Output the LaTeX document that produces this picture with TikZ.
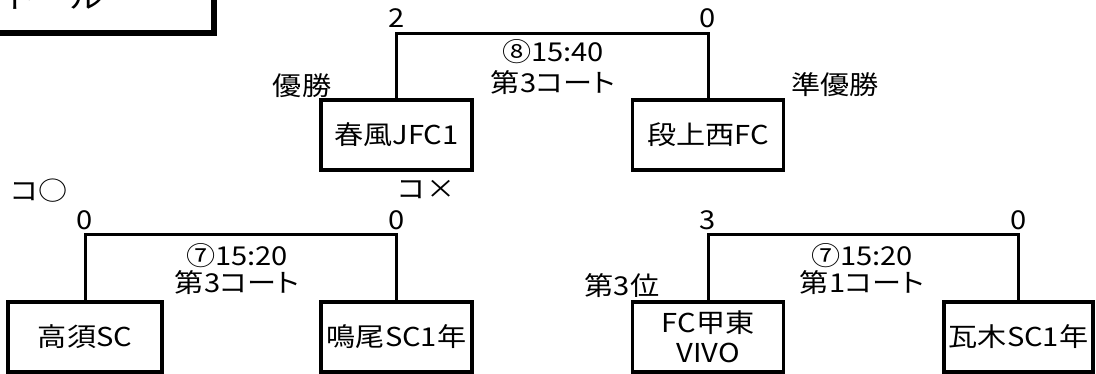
\documentclass[tikz,border=0pt]{standalone}
\usepackage{fontspec}
\setmainfont[FakeStretch=1.12]{Noto Sans CJK JP}
\begin{document}
\begin{tikzpicture}[x=1pt,y=-1pt,
  team/.style={draw,line width=3.5pt,minimum width=151pt,minimum height=70pt,inner sep=0pt,
    font=\fontsize{26}{30}\selectfont,align=center},
  lbl/.style={inner sep=0pt,font=\fontsize{26}{30}\selectfont,align=center},
  court/.style={lbl,font=\fontsize{26}{30}\selectfont\addfontfeature{RawFeature=+palt}},
  br/.style={line width=3pt}]
\useasboundingbox (0,0) rectangle (1096,374);
% title box (mostly above the picture)
\node[draw,line width=6pt,minimum width=300pt,minimum height=90pt,anchor=south east,inner sep=0pt] (title) at (216.5,36.5) {};
\node[inner sep=0pt,anchor=base west,font=\fontsize{30}{32}\selectfont] (titletext) at (2,9) {トール};
% teams
\node[team] (hj) at (396.5,135) {春風JFC1};
\node[team] (dk) at (708,135) {段上西FC};
\node[team,minimum width=154pt] (ts) at (85,337) {高須SC};
\node[team] (nr) at (396.5,337) {鳴尾SC1年};
\node[team] (kt) at (708,337) {FC甲東\\VIVO};
\node[team,minimum width=149pt] (kw) at (1018.5,337) {瓦木SC1年};
% brackets
\draw[br] (hj.north) -- ++(0,-65) -| (dk.north);
\draw[br] (ts.north) -- ++(0,-65.5) -| (nr.north);
\draw[br] (kt.north) -- ++(0,-65.5) -| (kw.north);
% scores
\node[lbl] (s1) at (397,18) {2};
\node[lbl] (s2) at (708,18) {0};
\node[lbl] (s3) at (85,220) {0};
\node[lbl] (s4) at (397,220) {0};
\node[lbl] (s5) at (708,220) {3};
\node[lbl] (s6) at (1019,220) {0};
% match info
\node[lbl] (m8a) at (553,52) {⑧15:40};
\node[court] (m8b) at (553,83) {第3コート};
\node[lbl] (m7a) at (237,256) {⑦15:20};
\node[court] (m7b) at (237,283) {第3コート};
\node[lbl] (m7c) at (862,256) {⑦15:20};
\node[court] (m7d) at (862,283) {第1コート};
% placement labels
\node[lbl] (win) at (302,86) {優勝};
\node[lbl] (second) at (835,85) {準優勝};
\node[lbl] (third) at (622,286) {第3位};
\node[lbl] (ko) at (39,191) {コ○};
\node[lbl] (kx) at (426,190) {コ{\addfontfeature{RawFeature=+fwid}×}};
\end{tikzpicture}
\end{document}
